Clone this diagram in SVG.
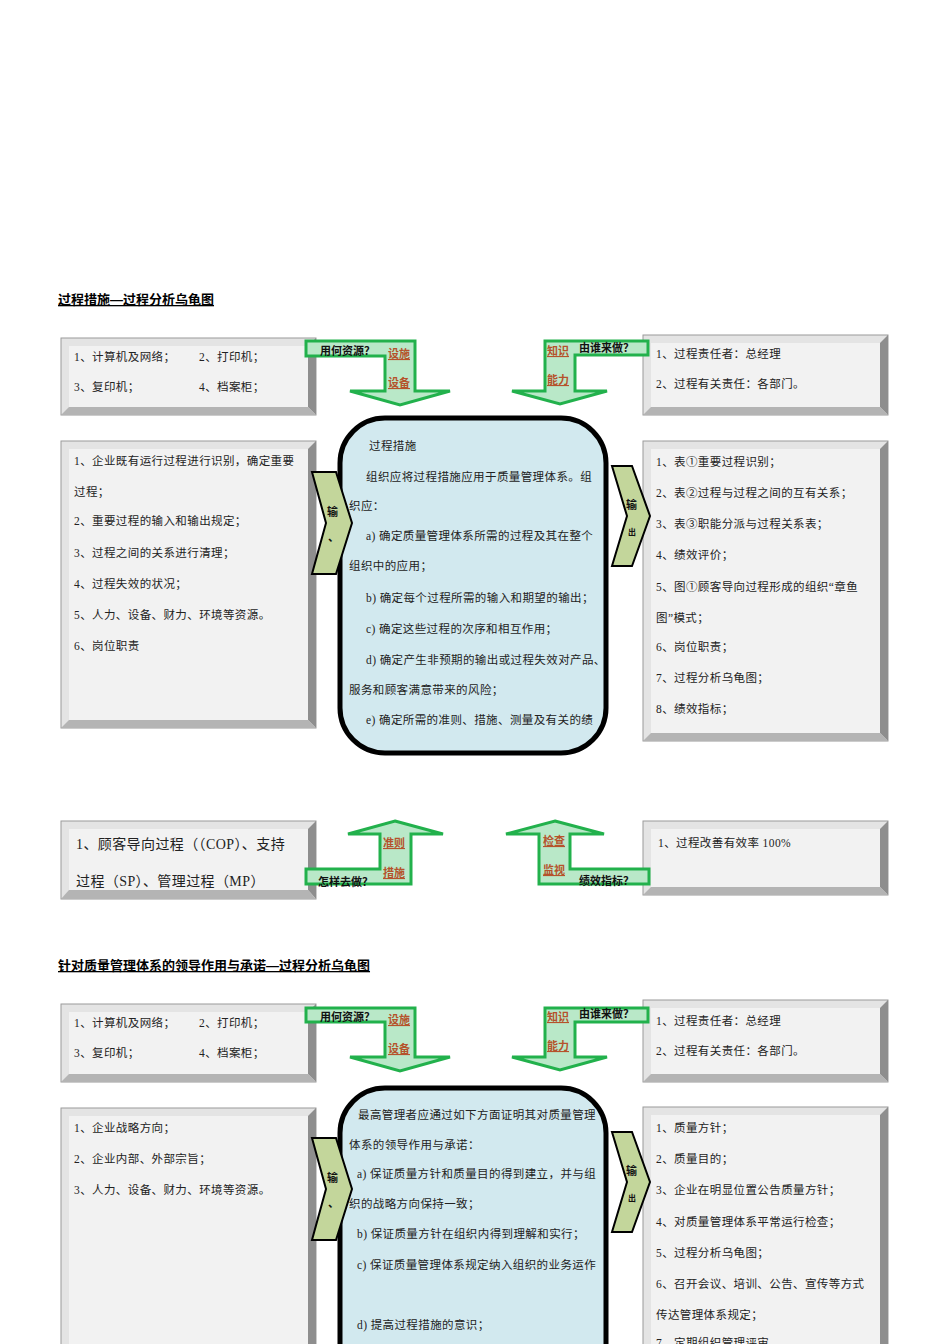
<svg xmlns="http://www.w3.org/2000/svg" width="950" height="1344" viewBox="0 0 950 1344">
<style>
.t{font-family:"Liberation Serif","Noto Sans CJK SC",serif;font-size:11.5px;letter-spacing:0.4px;fill:#222}
.h{font-family:"Liberation Sans","Noto Sans CJK SC",sans-serif;font-size:13px;font-weight:bold;text-decoration:underline;fill:#000}
.g{font-family:"Liberation Sans","Noto Sans CJK SC",sans-serif;font-size:11px;font-weight:bold;fill:#111}
.r{font-family:"Liberation Sans","Noto Sans CJK SC",sans-serif;font-size:11px;font-weight:bold;fill:#b5522b;text-decoration:underline}
.o{fill:#e4e4e4;stroke:#9a9a9a;stroke-width:1}
.in{fill:#f2f2f2}
.sr{fill:#8e8e8e}
.sb{fill:#b4b4b4}
.arr{fill:#b9e8c8;stroke:#22b14c;stroke-width:3;stroke-linejoin:miter}
.chev{fill:#c3d69b;stroke:#000;stroke-width:2}
.core{fill:#d2e9ef;stroke:#000;stroke-width:5}
</style>
<defs>
<clipPath id="c5"><rect x="69" y="829" width="239" height="61"/></clipPath>
</defs>
<text class="h" x="58" y="304">过程措施—过程分析乌龟图</text>
<text class="h" x="58" y="970">针对质量管理体系的领导作用与承诺—过程分析乌龟图</text>

<g id="res1"><rect class="o" x="61" y="338" width="255" height="77"/><polygon class="sr" points="308,346 316,338 316,415 308,407"/><polygon class="sb" points="69,407 308,407 316,415 61,415"/><rect class="in" x="69" y="346" width="239" height="61"/>
<text class="t" x="74" y="361">1、计算机及网络；</text><text class="t" x="199" y="361">2、打印机；</text><text class="t" x="74" y="391">3、复印机；</text><text class="t" x="199" y="391">4、档案柜；</text></g>

<g id="in1"><rect class="o" x="61" y="441" width="255" height="287"/><polygon class="sr" points="308,449 316,441 316,728 308,720"/><polygon class="sb" points="69,720 308,720 316,728 61,728"/><rect class="in" x="69" y="449" width="239" height="271"/>
<text class="t" x="74" y="465">1、企业既有运行过程进行识别，确定重要</text><text class="t" x="74" y="496">过程；</text><text class="t" x="74" y="525">2、重要过程的输入和输出规定；</text><text class="t" x="74" y="557">3、过程之间的关系进行清理；</text><text class="t" x="74" y="588">4、过程失效的状况；</text><text class="t" x="74" y="619">5、人力、设备、财力、环境等资源。</text><text class="t" x="74" y="650">6、岗位职责</text></g>

<g id="who1"><rect class="o" x="643" y="335" width="245" height="80"/><polygon class="sr" points="880,343 888,335 888,415 880,407"/><polygon class="sb" points="651,407 880,407 888,415 643,415"/><rect class="in" x="651" y="343" width="229" height="64"/>
<text class="t" x="656" y="358">1、过程责任者：总经理</text><text class="t" x="656" y="388">2、过程有关责任：各部门。</text></g>

<g id="out1"><rect class="o" x="643" y="441" width="245" height="300"/><polygon class="sr" points="880,449 888,441 888,741 880,733"/><polygon class="sb" points="651,733 880,733 888,741 643,741"/><rect class="in" x="651" y="449" width="229" height="284"/>
<text class="t" x="656" y="466">1、表①重要过程识别；</text><text class="t" x="656" y="497">2、表②过程与过程之间的互有关系；</text><text class="t" x="656" y="528">3、表③职能分派与过程关系表；</text><text class="t" x="656" y="559">4、绩效评价；</text><text class="t" x="656" y="591">5、图①顾客导向过程形成的组织“章鱼</text><text class="t" x="656" y="622">图”模式；</text><text class="t" x="656" y="651">6、岗位职责；</text><text class="t" x="656" y="682">7、过程分析乌龟图；</text><text class="t" x="656" y="713">8、绩效指标；</text></g>

<g id="core1"><rect class="core" x="340" y="418" width="266" height="335" rx="45"/>
<text class="t" x="369" y="450">过程措施</text>
<text class="t" x="366" y="481">组织应将过程措施应用于质量管理体系。组</text>
<text class="t" x="349" y="510">织应：</text>
<text class="t" x="366" y="540">a) 确定质量管理体系所需的过程及其在整个</text>
<text class="t" x="349" y="570">组织中的应用；</text>
<text class="t" x="366" y="602">b) 确定每个过程所需的输入和期望的输出；</text>
<text class="t" x="366" y="633">c) 确定这些过程的次序和相互作用；</text>
<text class="t" x="366" y="664">d) 确定产生非预期的输出或过程失效对产品、</text>
<text class="t" x="349" y="694">服务和顾客满意带来的风险；</text>
<text class="t" x="366" y="724">e) 确定所需的准则、措施、测量及有关的绩</text></g>

<g id="how1"><rect class="o" x="61" y="821" width="255" height="78"/><polygon class="sr" points="308,829 316,821 316,899 308,890"/><polygon class="sb" points="69,890 308,890 316,899 61,899"/><rect class="in" x="69" y="829" width="239" height="61"/>
<g clip-path="url(#c5)"><text class="t" x="76" y="849" style="font-size:14px">1、顾客导向过程（（COP）、支持</text><text class="t" x="76" y="886" style="font-size:14px">过程（SP）、管理过程（MP）</text></g></g>

<g id="kpi1"><rect class="o" x="643" y="821" width="245" height="74"/><polygon class="sr" points="880,829 888,821 888,895 880,887"/><polygon class="sb" points="651,887 880,887 888,895 643,895"/><rect class="in" x="651" y="829" width="229" height="58"/>
<text class="t" x="658" y="847">1、过程改善有效率 100%</text></g>

<g id="res2"><rect class="o" x="61" y="1004" width="255" height="78"/><polygon class="sr" points="308,1012 316,1004 316,1082 308,1074"/><polygon class="sb" points="69,1074 308,1074 316,1082 61,1082"/><rect class="in" x="69" y="1012" width="239" height="62"/>
<text class="t" x="74" y="1027">1、计算机及网络；</text><text class="t" x="199" y="1027">2、打印机；</text><text class="t" x="74" y="1057">3、复印机；</text><text class="t" x="199" y="1057">4、档案柜；</text></g>

<g id="in2"><rect class="o" x="61" y="1108" width="255" height="250"/><polygon class="sr" points="308,1116 316,1108 316,1358 308,1358"/><rect class="in" x="69" y="1116" width="239" height="242"/>
<text class="t" x="74" y="1132">1、企业战略方向；</text><text class="t" x="74" y="1163">2、企业内部、外部宗旨；</text><text class="t" x="74" y="1194">3、人力、设备、财力、环境等资源。</text></g>

<g id="who2"><rect class="o" x="643" y="1000" width="245" height="82"/><polygon class="sr" points="880,1008 888,1000 888,1082 880,1074"/><polygon class="sb" points="651,1074 880,1074 888,1082 643,1082"/><rect class="in" x="651" y="1008" width="229" height="66"/>
<text class="t" x="656" y="1025">1、过程责任者：总经理</text><text class="t" x="656" y="1055">2、过程有关责任：各部门。</text></g>

<g id="out2"><rect class="o" x="643" y="1107" width="245" height="250"/><polygon class="sr" points="880,1115 888,1107 888,1357 880,1357"/><rect class="in" x="651" y="1115" width="229" height="242"/>
<text class="t" x="656" y="1132">1、质量方针；</text><text class="t" x="656" y="1163">2、质量目的；</text><text class="t" x="656" y="1194">3、企业在明显位置公告质量方针；</text><text class="t" x="656" y="1226">4、对质量管理体系平常运行检查；</text><text class="t" x="656" y="1257">5、过程分析乌龟图；</text><text class="t" x="656" y="1288">6、召开会议、培训、公告、宣传等方式</text><text class="t" x="656" y="1319">传达管理体系规定；</text><text class="t" x="656" y="1347">7、定期组织管理评审</text></g>

<g id="core2"><rect class="core" x="340" y="1088" width="266" height="320" rx="45"/>
<text class="t" x="358" y="1119">最高管理者应通过如下方面证明其对质量管理</text>
<text class="t" x="349" y="1149">体系的领导作用与承诺：</text>
<text class="t" x="357" y="1178">a) 保证质量方针和质量目的得到建立，并与组</text>
<text class="t" x="349" y="1208">织的战略方向保持一致；</text>
<text class="t" x="357" y="1238">b) 保证质量方针在组织内得到理解和实行；</text>
<text class="t" x="357" y="1269">c) 保证质量管理体系规定纳入组织的业务运作</text>
<text class="t" x="357" y="1329">d) 提高过程措施的意识；</text></g>

<g id="connectors">
<polygon class="arr" points="306,341 415,341 415,391 450,391 400,405 350,391 385,391 385,356 306,356"/>
<polygon class="arr" points="648,341 545,341 545,391 512,391 560,404 607,391 575,391 575,355 648,355"/>
<polygon class="arr" points="395,821 443,834 411,834 411,884 306,884 306,869 380,869 380,834 348,834"/>
<polygon class="arr" points="555,821 604,834 570,834 570,869 649,869 649,884 539,884 539,834 506,834"/>
<polygon class="arr" points="306,1008 415,1008 415,1057 450,1057 400,1071 350,1057 385,1057 385,1022 306,1022"/>
<polygon class="arr" points="648,1008 545,1008 545,1057 512,1057 560,1070 607,1057 575,1057 575,1022 648,1022"/>
<polygon class="chev" points="312,472 336,472 352,523 336,574 312,574 326,523"/>
<polygon class="chev" points="612,466 632,466 650,516 632,566 612,566 627,516"/>
<polygon class="chev" points="312,1138 336,1138 352,1189 336,1240 312,1240 326,1189"/>
<polygon class="chev" points="612,1132 632,1132 650,1182 632,1232 612,1232 627,1182"/>
<text class="g" x="320" y="355">用何资源？</text><text class="r" x="388" y="358">设施</text><text class="r" x="388" y="387">设备</text>
<text class="r" x="547" y="355">知识</text><text class="r" x="547" y="384">能力</text><text class="g" x="579" y="352">由谁来做？</text>
<text class="r" x="383" y="847">准则</text><text class="r" x="383" y="877">措施</text><text class="g" x="318" y="886">怎样去做？</text>
<text class="r" x="543" y="845">检查</text><text class="r" x="543" y="874">监视</text><text class="g" x="579" y="885">绩效指标？</text>
<text class="g" x="320" y="1021">用何资源？</text><text class="r" x="388" y="1024">设施</text><text class="r" x="388" y="1053">设备</text>
<text class="r" x="547" y="1021">知识</text><text class="r" x="547" y="1050">能力</text><text class="g" x="579" y="1018">由谁来做？</text>
<text class="g" x="327" y="516">输</text><text class="g" x="328" y="541">、</text>
<text class="g" x="626" y="509">输</text><text class="g" x="628" y="535" style="font-size:8px">出</text>
<text class="g" x="327" y="1182">输</text><text class="g" x="328" y="1207">、</text>
<text class="g" x="626" y="1175">输</text><text class="g" x="628" y="1201" style="font-size:8px">出</text>
</g>
</svg>
